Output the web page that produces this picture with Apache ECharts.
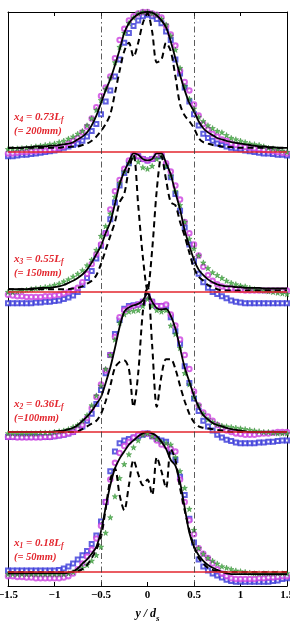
<!DOCTYPE html>
<html>
<head>
<meta charset="utf-8">
<script src="https://cdn.jsdelivr.net/npm/echarts@6/dist/echarts.min.js"></script>
<style>
  html, body { margin: 0; padding: 0; background: #fff; }
  #chart { width: 290px; height: 628px; }
</style>
</head>
<body>
<div id="chart"></div>
<script>
// y/ds sample positions (same for every profile)
const xs = [
  -1.5, -1.45, -1.4, -1.35, -1.3, -1.25, -1.2, -1.15, -1.1, -1.05,
  -1.0, -0.95, -0.9, -0.85, -0.8, -0.75, -0.7, -0.65, -0.6, -0.55,
  -0.5, -0.45, -0.4, -0.35, -0.3, -0.25, -0.2, -0.15, -0.1, -0.05,
  0, 0.05, 0.1, 0.15, 0.2, 0.25, 0.3, 0.35, 0.4, 0.45,
  0.5, 0.55, 0.6, 0.65, 0.7, 0.75, 0.8, 0.85, 0.9, 0.95,
  1.0, 1.05, 1.1, 1.15, 1.2, 1.25, 1.3, 1.35, 1.4, 1.45,
  1.5
];
const guideX = [-0.5, 0.5];
const baselines = [0, 1, 2, 3];

// x1 = 0.18Lf (50mm)
const solid1 = [
  -0.01, -0.01, -0.01, -0.01, -0.01, -0.01, -0.01, -0.01, -0.01, -0.01,
  -0.01, -0.01, -0.01, -0.005, 0.005, 0.025, 0.06, 0.09, 0.13, 0.18,
  0.29, 0.46, 0.62, 0.74, 0.81, 0.86, 0.91, 0.94, 0.97, 0.99,
  1.0, 0.99, 0.97, 0.93, 0.88, 0.8, 0.76, 0.64, 0.46, 0.28,
  0.18, 0.12, 0.08, 0.05, 0.03, 0.015, 0.0, -0.01, -0.015, -0.015,
  -0.015, -0.015, -0.015, -0.015, -0.015, -0.015, -0.015, -0.015, -0.015, -0.015,
  -0.015
];
const dashed1 = [
  0, 0, 0, 0, 0, 0, 0, 0, 0, 0,
  0, 0, 0, 0, 0, 0.005, 0.02, 0.05, 0.1, 0.16,
  0.25, 0.45, 0.66, 0.74, 0.55, 0.44, 0.62, 0.8, 0.7, 0.62,
  0.66, 0.55, 0.82, 0.72, 0.6, 0.88, 0.8, 0.6, 0.44, 0.3,
  0.18, 0.1, 0.06, 0.03, 0.015, 0.005, 0, 0, 0, 0,
  0, 0, 0, 0, 0, 0, 0, 0, 0, 0,
  0
];
const mag1 = [
  -0.03, -0.03, -0.035, -0.035, -0.04, -0.04, -0.045, -0.045, -0.045, -0.045,
  -0.045, -0.045, -0.04, -0.03, -0.01, 0.02, 0.06, 0.11, 0.16, 0.24,
  0.33, 0.5, 0.66, 0.78, 0.85, 0.9, 0.93, 0.96, 0.98, 0.99,
  0.99, 0.97, 0.94, 0.91, 0.9, 0.88, 0.86, 0.66, 0.5, 0.37,
  0.27, 0.17, 0.13, 0.1, 0.06, 0.02, -0.01, -0.03, -0.045, -0.05,
  -0.05, -0.05, -0.05, -0.05, -0.045, -0.045, -0.04, -0.04, -0.035, -0.03,
  -0.03
];
const blue1 = [
  0.01, 0.01, 0.01, 0.01, 0.01, 0.01, 0.01, 0.01, 0.01, 0.01,
  0.01, 0.015, 0.025, 0.04, 0.06, 0.09, 0.12, 0.15, 0.2, 0.26,
  0.36, 0.5, 0.72, 0.86, 0.92, 0.94, 0.95, 0.96, 0.97, 0.98,
  0.99, 0.97, 0.95, 0.94, 0.93, 0.86, 0.8, 0.68, 0.55, 0.38,
  0.21, 0.09, 0.04, 0.01, -0.01, -0.025, -0.04, -0.055, -0.065, -0.07,
  -0.07, -0.07, -0.07, -0.07, -0.07, -0.07, -0.07, -0.065, -0.06, -0.05,
  -0.045
];
const green1 = [
  -0.015, -0.015, -0.015, -0.015, -0.015, -0.015, -0.015, -0.015, -0.015, -0.015,
  -0.015, -0.015, -0.015, -0.01, 0.0, 0.015, 0.03, 0.05, 0.08, 0.12,
  0.18, 0.28, 0.39, 0.54, 0.67, 0.77, 0.84, 0.89, 0.94, 0.98,
  0.99, 0.97, 0.95, 0.93, 0.92, 0.91, 0.82, 0.72, 0.6, 0.45,
  0.3, 0.17, 0.13, 0.1, 0.08, 0.06, 0.04, 0.03, 0.02, 0.01,
  0.005, 0.0, -0.005, -0.01, -0.01, -0.01, -0.01, -0.01, -0.01, -0.01,
  -0.01
];

// x2 = 0.36Lf (100mm)
const solid2 = [
  0, 0, 0, 0, 0, 0, 0, 0, 0, 0,
  0.005, 0.008, 0.01, 0.02, 0.03, 0.05, 0.08, 0.11, 0.15, 0.2,
  0.25, 0.35, 0.46, 0.6, 0.75, 0.86, 0.89, 0.905, 0.915, 0.94,
  0.99, 0.93, 0.885, 0.875, 0.88, 0.83, 0.74, 0.6, 0.46, 0.36,
  0.26, 0.18, 0.12, 0.09, 0.065, 0.05, 0.04, 0.03, 0.02, 0.015,
  0.01, 0.005, 0, 0, 0, 0, 0, 0, 0, 0,
  0
];
const dashed2 = [
  0, 0, 0, 0, 0, 0, 0, 0, 0, 0,
  0, 0, 0, 0, 0, 0.005, 0.02, 0.04, 0.06, 0.08,
  0.13, 0.22, 0.33, 0.46, 0.5, 0.51, 0.45, 0.18, 0.42, 0.86,
  1.05, 0.62, 0.18, 0.4, 0.52, 0.52, 0.45, 0.33, 0.22, 0.13,
  0.07, 0.04, 0.03, 0.025, 0.02, 0.015, 0.01, 0.005, 0, 0,
  0, 0, 0, 0, 0, 0, 0, 0, 0, 0,
  0
];
const mag2 = [
  -0.035, -0.035, -0.04, -0.04, -0.04, -0.04, -0.04, -0.04, -0.035, -0.035,
  -0.03, -0.025, -0.02, -0.01, 0.0, 0.02, 0.05, 0.1, 0.17, 0.25,
  0.34, 0.44, 0.55, 0.68, 0.82, 0.87, 0.89, 0.9, 0.91, 0.93,
  0.97, 0.93, 0.9, 0.9, 0.91, 0.84, 0.76, 0.66, 0.55, 0.45,
  0.29, 0.19, 0.14, 0.11, 0.08, 0.05, 0.03, 0.01, 0.0, -0.01,
  -0.015, -0.02, -0.02, -0.02, -0.015, -0.01, -0.01, -0.005, 0.0, 0.0,
  0.0
];
const blue2 = [
  -0.035, -0.035, -0.035, -0.035, -0.035, -0.035, -0.035, -0.035, -0.035, -0.035,
  -0.03, -0.025, -0.02, -0.01, 0.0, 0.02, 0.04, 0.08, 0.13, 0.2,
  0.3, 0.42, 0.55, 0.7, 0.8, 0.88, 0.9, 0.905, 0.91, 0.93,
  0.97, 0.93, 0.9, 0.9, 0.9, 0.82, 0.72, 0.63, 0.47, 0.35,
  0.24, 0.15, 0.08, 0.04, 0.01, -0.02, -0.04, -0.055, -0.065, -0.075,
  -0.08, -0.08, -0.08, -0.08, -0.075, -0.075, -0.07, -0.07, -0.065, -0.06,
  -0.06
];
const green2 = [
  -0.01, -0.01, -0.01, -0.01, -0.01, -0.01, -0.01, -0.005, -0.005, -0.005,
  0.0, 0.005, 0.01, 0.02, 0.035, 0.05, 0.08, 0.12, 0.19, 0.26,
  0.33, 0.45, 0.55, 0.66, 0.78, 0.84, 0.86, 0.865, 0.87, 0.9,
  0.95, 0.9, 0.87, 0.86, 0.87, 0.76, 0.7, 0.6, 0.42, 0.34,
  0.25, 0.19, 0.13, 0.09, 0.07, 0.055, 0.045, 0.04, 0.035, 0.03,
  0.025, 0.02, 0.015, 0.01, 0.005, 0.0, 0.0, -0.005, -0.01, -0.01,
  -0.01
];

// x3 = 0.55Lf (150mm)
const solid3 = [
  0.02, 0.02, 0.02, 0.02, 0.02, 0.025, 0.025, 0.03, 0.03, 0.03,
  0.035, 0.04, 0.05, 0.065, 0.08, 0.1, 0.125, 0.16, 0.21, 0.27,
  0.33, 0.42, 0.5, 0.63, 0.77, 0.86, 0.93, 0.99, 0.98, 0.95,
  0.94, 0.95, 0.99, 0.99, 0.92, 0.84, 0.71, 0.59, 0.44, 0.33,
  0.23, 0.16, 0.12, 0.09, 0.07, 0.055, 0.045, 0.04, 0.04, 0.035,
  0.035, 0.03, 0.03, 0.03, 0.03, 0.025, 0.025, 0.025, 0.025, 0.025,
  0.025
];
const dashed3 = [
  0.02, 0.02, 0.02, 0.02, 0.02, 0.02, 0.02, 0.02, 0.02, 0.02,
  0.02, 0.02, 0.02, 0.02, 0.025, 0.03, 0.04, 0.06, 0.08, 0.12,
  0.2, 0.3, 0.4, 0.5, 0.64, 0.7, 0.88, 0.98, 0.62, 0.25,
  0.01, 0.3, 0.73, 0.97, 0.8, 0.64, 0.62, 0.5, 0.4, 0.28,
  0.17, 0.11, 0.08, 0.05, 0.035, 0.02, 0.01, 0.01, 0.01, 0.01,
  0.01, 0.01, 0.01, 0.01, 0.01, 0.01, 0.01, 0.01, 0.01, 0.01,
  0.01
];
const mag3 = [
  -0.02, -0.025, -0.03, -0.03, -0.035, -0.035, -0.035, -0.035, -0.03, -0.03,
  -0.025, -0.02, -0.01, 0.0, 0.015, 0.03, 0.07, 0.13, 0.2, 0.27,
  0.34, 0.42, 0.59, 0.72, 0.8, 0.88, 0.94, 0.98, 0.97, 0.95,
  0.94, 0.95, 0.98, 0.98, 0.92, 0.86, 0.76, 0.66, 0.5, 0.42,
  0.34, 0.26, 0.18, 0.12, 0.08, 0.055, 0.04, 0.03, 0.025, 0.02,
  0.015, 0.01, 0.01, 0.01, 0.01, 0.01, 0.01, 0.01, 0.01, 0.01,
  0.01
];
const blue3 = [
  -0.08, -0.08, -0.08, -0.08, -0.08, -0.08, -0.075, -0.075, -0.07, -0.07,
  -0.065, -0.06, -0.05, -0.04, -0.025, 0.0, 0.05, 0.1, 0.15, 0.24,
  0.33, 0.42, 0.52, 0.64, 0.76, 0.85, 0.92, 0.97, 0.97, 0.95,
  0.94, 0.95, 0.97, 0.97, 0.9, 0.82, 0.7, 0.58, 0.46, 0.34,
  0.22, 0.13, 0.07, 0.03, 0.0, -0.015, -0.03, -0.045, -0.06, -0.07,
  -0.075, -0.08, -0.08, -0.08, -0.08, -0.08, -0.08, -0.08, -0.08, -0.08,
  -0.08
];
const green3 = [
  0.0, 0.0, 0.005, 0.01, 0.015, 0.02, 0.025, 0.03, 0.035, 0.04,
  0.05, 0.06, 0.075, 0.09, 0.11, 0.13, 0.155, 0.19, 0.23, 0.3,
  0.4, 0.47, 0.56, 0.68, 0.78, 0.86, 0.92, 0.96, 0.93, 0.89,
  0.88, 0.9, 0.95, 0.97, 0.9, 0.83, 0.72, 0.62, 0.5, 0.38,
  0.31, 0.26, 0.21, 0.17, 0.14, 0.12, 0.1, 0.08, 0.065, 0.055,
  0.045, 0.04, 0.03, 0.02, 0.015, 0.01, 0.005, 0.0, -0.005, -0.01,
  -0.015
];

// x4 = 0.73Lf (200mm)
const solid4 = [
  0.03, 0.03, 0.03, 0.03, 0.035, 0.035, 0.04, 0.04, 0.04, 0.045,
  0.045, 0.05, 0.055, 0.06, 0.07, 0.09, 0.11, 0.14, 0.19, 0.26,
  0.35, 0.44, 0.52, 0.62, 0.73, 0.85, 0.92, 0.96, 0.985, 0.997,
  1.0, 0.995, 0.975, 0.94, 0.89, 0.79, 0.67, 0.55, 0.44, 0.35,
  0.29, 0.22, 0.17, 0.14, 0.12, 0.1, 0.09, 0.08, 0.07, 0.065,
  0.06, 0.055, 0.05, 0.045, 0.04, 0.04, 0.035, 0.035, 0.03, 0.03,
  0.03
];
const dashed4 = [
  0.03, 0.03, 0.03, 0.03, 0.03, 0.03, 0.03, 0.03, 0.03, 0.03,
  0.03, 0.03, 0.035, 0.035, 0.04, 0.04, 0.05, 0.06, 0.08, 0.11,
  0.15, 0.2, 0.27, 0.42, 0.58, 0.72, 0.78, 0.68, 0.78, 0.92,
  0.99, 0.86, 0.64, 0.66, 0.78, 0.72, 0.54, 0.34, 0.26, 0.22,
  0.17, 0.1, 0.07, 0.06, 0.05, 0.045, 0.04, 0.035, 0.035, 0.03,
  0.03, 0.03, 0.03, 0.03, 0.03, 0.03, 0.03, 0.03, 0.03, 0.03,
  0.03
];
const mag4 = [
  -0.01, -0.01, -0.005, 0.0, 0.0, 0.005, 0.005, 0.01, 0.01, 0.015,
  0.02, 0.03, 0.04, 0.06, 0.08, 0.1, 0.14, 0.18, 0.24, 0.32,
  0.4, 0.46, 0.54, 0.67, 0.8, 0.88, 0.94, 0.97, 0.99, 1.0,
  1.0, 0.99, 0.98, 0.96, 0.9, 0.84, 0.76, 0.58, 0.5, 0.44,
  0.34, 0.26, 0.2, 0.16, 0.13, 0.11, 0.09, 0.08, 0.06, 0.05,
  0.04, 0.035, 0.03, 0.025, 0.02, 0.015, 0.01, 0.005, 0.0, -0.005,
  -0.01
];
const blue4 = [
  -0.03, -0.03, -0.025, -0.02, -0.02, -0.015, -0.01, -0.005, 0.0, 0.005,
  0.01, 0.02, 0.03, 0.04, 0.05, 0.06, 0.08, 0.11, 0.15, 0.2,
  0.27, 0.36, 0.44, 0.54, 0.66, 0.78, 0.85, 0.9, 0.94, 0.97,
  0.98, 0.97, 0.95, 0.92, 0.86, 0.8, 0.66, 0.56, 0.46, 0.36,
  0.27, 0.19, 0.13, 0.1, 0.08, 0.06, 0.05, 0.04, 0.03, 0.025,
  0.02, 0.01, 0.005, 0.0, -0.005, -0.01, -0.01, -0.015, -0.02, -0.02,
  -0.025
];
const green4 = [
  0.02, 0.022, 0.025, 0.027, 0.03, 0.035, 0.04, 0.045, 0.05, 0.055,
  0.06, 0.07, 0.08, 0.095, 0.11, 0.13, 0.15, 0.19, 0.24, 0.3,
  0.37, 0.45, 0.53, 0.64, 0.75, 0.85, 0.92, 0.96, 0.99, 1.0,
  1.0, 0.99, 0.98, 0.95, 0.91, 0.83, 0.73, 0.6, 0.47, 0.38,
  0.31, 0.25, 0.22, 0.19, 0.17, 0.15, 0.14, 0.12, 0.1, 0.09,
  0.08, 0.07, 0.06, 0.055, 0.05, 0.04, 0.03, 0.025, 0.02, 0.01,
  0.0
];

const panels = [
  { base: 0, solid: solid1, dashed: dashed1, mag: mag1, blue: blue1, green: green1,
    idx: '1', frac: '0.18', dist: '(= 50mm)', y: 543 },
  { base: 1, solid: solid2, dashed: dashed2, mag: mag2, blue: blue2, green: green2,
    idx: '2', frac: '0.36', dist: '(=100mm)', y: 404 },
  { base: 2, solid: solid3, dashed: dashed3, mag: mag3, blue: blue3, green: green3,
    idx: '3', frac: '0.55', dist: '(= 150mm)', y: 259 },
  { base: 3, solid: solid4, dashed: dashed4, mag: mag4, blue: blue4, green: green4,
    idx: '4', frac: '0.73', dist: '(= 200mm)', y: 117 }
];

const RED = '#e3262e';
const serif = '"Liberation Serif", "DejaVu Serif", serif';
// small asterisk-like star for the green markers
const STAR = 'path://M50,0 L61,35 L98,35 L68,57 L79,92 L50,70 L21,92 L32,57 L2,35 L39,35 Z';

function pts(arr, base) {
  return xs.map((x, i) => [x, arr[i] + base]);
}

const series = [{
  type: 'line',
  data: [],
  z: 1,
  markLine: {
    silent: true,
    symbol: 'none',
    animation: false,
    label: { show: false },
    data: baselines.map(b => ({ yAxis: b, lineStyle: { color: RED, width: 1.6, type: 'solid' } }))
      .concat(guideX.map(g => ({ xAxis: g, lineStyle: { color: '#333', width: 0.8, type: [6, 3, 1.5, 3] } })))
  }
}];

panels.forEach(p => {
  series.push({
    type: 'scatter', data: pts(p.blue, p.base), symbol: 'emptyRect', symbolSize: 4,
    itemStyle: { color: '#3838d8', borderWidth: 1 }, clip: false, z: 2
  });
  series.push({
    type: 'scatter', data: pts(p.mag, p.base), symbol: 'emptyCircle', symbolSize: 4.5,
    itemStyle: { color: '#cc40e0', borderWidth: 1 }, clip: false, z: 2
  });
  series.push({
    type: 'scatter', data: pts(p.green, p.base), symbol: STAR, symbolSize: 5.5,
    itemStyle: { color: '#3aaa3a', borderColor: '#1e7a1e', borderWidth: 0.5 }, clip: false, z: 2
  });
  series.push({
    type: 'line', data: pts(p.dashed, p.base), smooth: 0.3, symbol: 'none',
    lineStyle: { color: '#000', width: 2, type: [6, 4] }, z: 3
  });
  series.push({
    type: 'line', data: pts(p.solid, p.base), smooth: 0.3, symbol: 'none',
    lineStyle: { color: '#000', width: 1.8 }, z: 4
  });
});

const labelRich = {
  m: { fontFamily: serif, fontStyle: 'italic', fontWeight: 'bold', fontSize: 11, fill: RED },
  b: { fontFamily: serif, fontStyle: 'italic', fontWeight: 'bold', fontSize: 7.5, fill: RED, padding: [7, 0, 0, 0] }
};

const graphic = [];
panels.forEach(p => {
  graphic.push({
    type: 'text', x: 14, y: p.y, z: 10,
    style: {
      text: '{m|x}{b|' + p.idx + '}{m| = ' + p.frac + 'L}{b|f}',
      rich: labelRich, verticalAlign: 'middle', align: 'left'
    }
  });
  graphic.push({
    type: 'text', x: 14, y: p.y + 14, z: 10,
    style: {
      text: p.dist, fill: RED, font: 'italic bold 10.5px ' + serif,
      verticalAlign: 'middle', align: 'left'
    }
  });
});

const axisBase = {
  type: 'value',
  axisLine: { show: true, onZero: false, lineStyle: { color: '#000', width: 1 } },
  splitLine: { show: false }
};

const chart = echarts.init(document.getElementById('chart'));
chart.setOption({
  animation: false,
  backgroundColor: '#fff',
  grid: { left: 8, right: 3, top: 12, bottom: 42, containLabel: false, outerBoundsMode: 'none' },
  xAxis: [Object.assign({}, axisBase, {
    min: -1.5, max: 1.5, interval: 0.5, position: 'bottom',
    axisTick: { show: true, inside: true, length: 4, lineStyle: { color: '#000' } },
    axisLabel: {
      color: '#000', fontFamily: serif, fontWeight: 'bold', fontSize: 11, margin: 4,
      showMinLabel: true, showMaxLabel: true, hideOverlap: false,
      formatter: v => String(v).replace('-', '\u2212')
    },
    name: '{i|y / d}{s|s}',
    nameLocation: 'middle',
    nameGap: 19,
    nameTextStyle: {
      rich: {
        i: { fontFamily: serif, fontStyle: 'italic', fontWeight: 'bold', fontSize: 12, color: '#000' },
        s: { fontFamily: serif, fontStyle: 'italic', fontWeight: 'bold', fontSize: 9, color: '#000', padding: [9, 0, 0, 0] }
      }
    }
  }), Object.assign({}, axisBase, {
    min: -1.5, max: 1.5, interval: 0.5, position: 'top',
    axisTick: { show: true, inside: true, length: 4, lineStyle: { color: '#000' } },
    axisLabel: { show: false }
  })],
  yAxis: [Object.assign({}, axisBase, {
    min: -0.1, max: 4.0, position: 'left',
    axisTick: { show: false }, axisLabel: { show: false }
  }), Object.assign({}, axisBase, {
    min: -0.1, max: 4.0, position: 'right',
    axisTick: { show: false }, axisLabel: { show: false }
  })],
  series: series,
  graphic: graphic
});
</script>
</body>
</html>
